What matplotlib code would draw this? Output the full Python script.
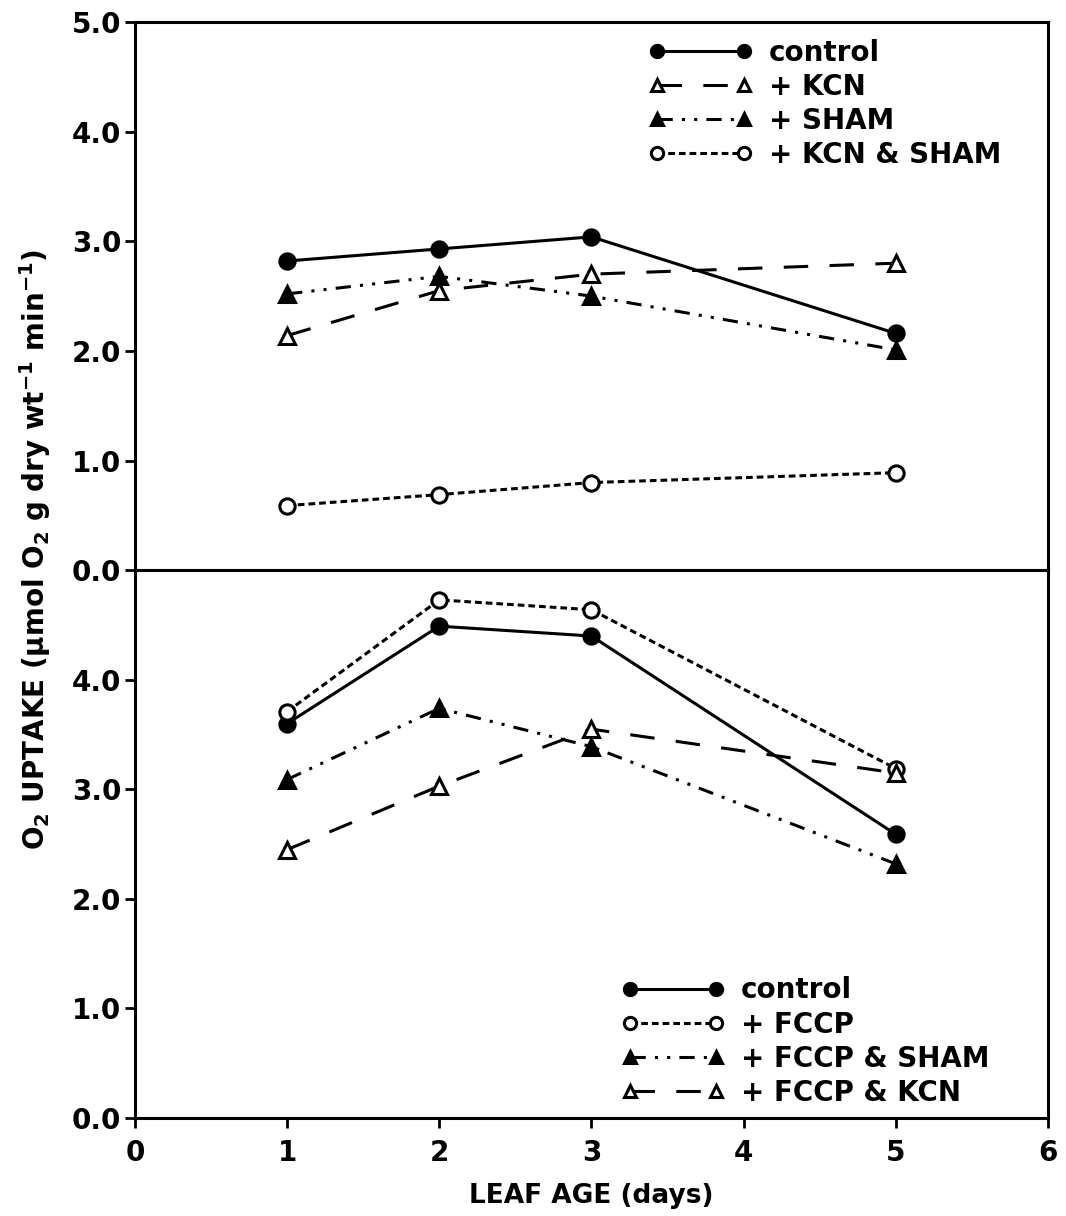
"""
Leaf O2 uptake vs leaf age: inhibitor treatments (top) and FCCP treatments (bottom).
Saved to out.png
"""
import matplotlib
matplotlib.use("Agg")
import matplotlib.pyplot as plt

days = [1, 2, 3, 5]

# top panel
top_control = [2.82, 2.93, 3.04, 2.16]
top_kcn = [2.14, 2.55, 2.70, 2.80]
top_sham = [2.52, 2.68, 2.50, 2.01]
top_kcn_sham = [0.59, 0.69, 0.80, 0.89]

# bottom panel
bot_control = [3.60, 4.49, 4.40, 2.59]
bot_fccp = [3.71, 4.73, 4.64, 3.19]
bot_fccp_sham = [3.09, 3.74, 3.39, 2.32]
bot_fccp_kcn = [2.45, 3.03, 3.55, 3.15]

SOLID = "-"
LONGDASH = (0, (8, 7))
DASHDOTDOT = (0, (5, 3, 1, 3, 1, 3))
SHORTDASH = (0, (2.2, 1.3))

plt.rcParams["font.family"] = "DejaVu Sans"
plt.rcParams["font.weight"] = "bold"
plt.rcParams["mathtext.default"] = "bf"

fig = plt.figure(figsize=(10.66, 12.16), dpi=100)
ax1 = fig.add_axes([0.1266, 0.531, 0.8564, 0.451])
ax2 = fig.add_axes([0.1266, 0.0806, 0.8564, 0.4504], sharex=ax1)

kw = dict(color="black", lw=2.2, ms=11, mew=2.2)


def series(ax, y, ls, marker, filled, label):
    ax.plot(days, y, linestyle=ls, marker=marker,
            mfc="black" if filled else "white", mec="black", label=label, **kw)


series(ax1, top_control, SOLID, "o", True, "control")
series(ax1, top_kcn, LONGDASH, "^", False, "+ KCN")
series(ax1, top_sham, DASHDOTDOT, "^", True, "+ SHAM")
series(ax1, top_kcn_sham, SHORTDASH, "o", False, "+ KCN & SHAM")

series(ax2, bot_control, SOLID, "o", True, "control")
series(ax2, bot_fccp, SHORTDASH, "o", False, "+ FCCP")
series(ax2, bot_fccp_sham, DASHDOTDOT, "^", True, "+ FCCP & SHAM")
series(ax2, bot_fccp_kcn, LONGDASH, "^", False, "+ FCCP & KCN")

for ax in (ax1, ax2):
    ax.set_ylim(0, 5)
    ax.set_xlim(0, 6)
    for s in ax.spines.values():
        s.set_linewidth(2.2)
    ax.tick_params(direction="out", length=7, width=2, labelsize=20)
    ax.tick_params(axis="y", right=False, pad=3)

ax1.set_yticks([0, 1, 2, 3, 4, 5])
ax1.set_yticklabels([f"{v:.1f}" for v in [0, 1, 2, 3, 4, 5]])
ax1.tick_params(axis="x", bottom=False, labelbottom=False)
ax2.set_yticks([0, 1, 2, 3, 4])
ax2.set_yticklabels([f"{v:.1f}" for v in [0, 1, 2, 3, 4]])
ax2.set_xticks(range(7))
ax2.tick_params(axis="x", pad=8)
ax2.set_xlabel("LEAF AGE (days)", fontsize=19, fontweight="bold", labelpad=12)

fig.text(0.033, 0.548,
         r"O$_2$ UPTAKE ($\mu$mol O$_2$ g dry wt$^{-1}$ min$^{-1}$)",
         rotation=90, ha="center", va="center", fontsize=20, fontweight="bold")

lg = dict(numpoints=2, handlelength=3.7, frameon=False, fontsize=20,
          labelspacing=0.22, handletextpad=0.6, borderaxespad=0.2,
          markerscale=0.8)
ax1.legend(loc="upper left", bbox_to_anchor=(0.545, 1.0), **lg)
ax2.legend(loc="lower left", bbox_to_anchor=(0.515, -0.01), **lg)

fig.savefig("out.png", dpi=100)
